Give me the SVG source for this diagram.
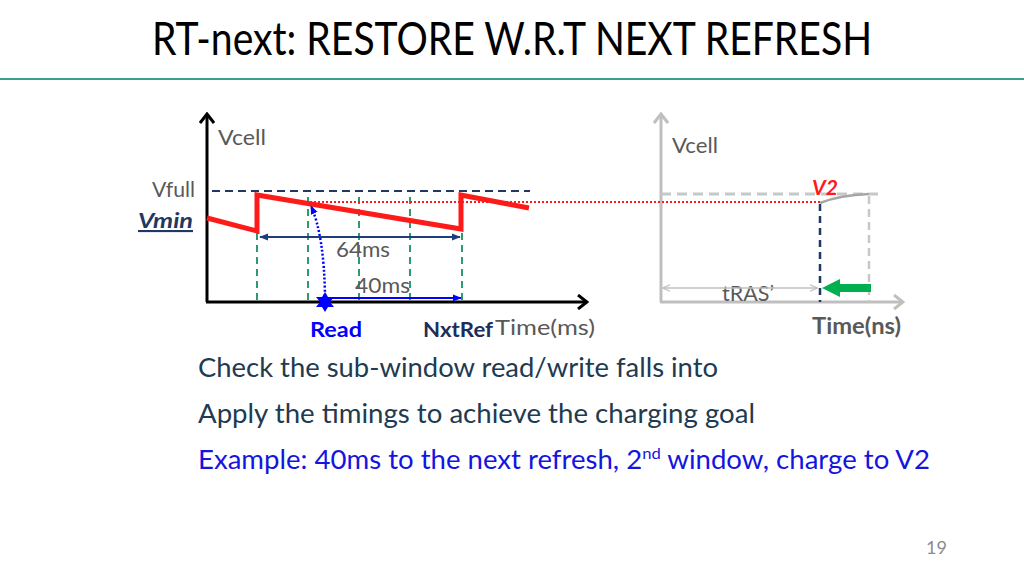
<svg xmlns="http://www.w3.org/2000/svg" width="1024" height="576" viewBox="0 0 1024 576">
<style>
text{font-family:Lato,"Open Sans","Liberation Sans",sans-serif}
.lbl{fill:#595959;font-size:22px}
.bul{fill:#213a50;font-size:26.5px}
.grn{stroke:#2e9b6e;stroke-width:2;stroke-dasharray:7 5;fill:none}
.ax{stroke:#000;stroke-width:3;fill:none}
.gax{stroke:#bfbfbf;stroke-width:3;fill:none}
</style>
<defs>
<marker id="chev" viewBox="0 0 12 16" refX="10" refY="8" markerWidth="12" markerHeight="16" markerUnits="userSpaceOnUse" orient="auto"><path d="M1,1 L10,8 L1,15" fill="none" stroke="#000" stroke-width="3"/></marker>
<marker id="gchev" viewBox="0 0 12 16" refX="10" refY="8" markerWidth="12" markerHeight="16" markerUnits="userSpaceOnUse" orient="auto"><path d="M1,1 L10,8 L1,15" fill="none" stroke="#bfbfbf" stroke-width="3"/></marker>
<marker id="navyA" viewBox="0 0 10 10" refX="9" refY="5" markerWidth="9" markerHeight="9" markerUnits="userSpaceOnUse" orient="auto-start-reverse"><path d="M0,1 L10,5 L0,9 Z" fill="#1f3d7a"/></marker>
<marker id="blueA" viewBox="0 0 10 10" refX="9" refY="5" markerWidth="9" markerHeight="9" markerUnits="userSpaceOnUse" orient="auto"><path d="M0,1 L10,5 L0,9 Z" fill="#0000ff"/></marker>
<marker id="grayA" viewBox="0 0 10 10" refX="9" refY="5" markerWidth="8" markerHeight="8" markerUnits="userSpaceOnUse" orient="auto-start-reverse"><path d="M0,1 L10,5 L0,9" fill="none" stroke="#bfbfbf" stroke-width="1.5"/></marker>
</defs>
<rect width="1024" height="576" fill="#fff"/>
<g id="title">
<text x="152" y="55" font-size="46" fill="#000" textLength="720" lengthAdjust="spacingAndGlyphs">RT-next: RESTORE W.R.T NEXT REFRESH</text>
<line x1="0" y1="79" x2="1024" y2="79" stroke="#3d9e8c" stroke-width="2"/>
</g>
<g id="left-chart">
<line class="ax" x1="207" y1="302" x2="207" y2="114" marker-end="url(#chev)"/>
<line class="ax" x1="206" y1="302" x2="587" y2="302" marker-end="url(#chev)"/>
<line x1="212" y1="191" x2="530" y2="191" stroke="#1f3864" stroke-width="2" stroke-dasharray="8 5"/>
<line x1="257" y1="197" x2="257" y2="302" class="grn"/>
<line x1="308" y1="197" x2="308" y2="302" class="grn"/>
<line x1="359" y1="197" x2="359" y2="302" class="grn"/>
<line x1="410" y1="197" x2="410" y2="302" class="grn"/>
<line x1="462" y1="197" x2="462" y2="302" class="grn"/>
<polyline points="207,218 257,231 257,195 461,229 461,195 529,208" fill="none" stroke="#ff1a1a" stroke-width="5" stroke-linejoin="miter"/>
<text class="lbl" x="218" y="145" textLength="48" lengthAdjust="spacingAndGlyphs">Vcell</text>
<text class="lbl" x="152" y="197" textLength="43" lengthAdjust="spacingAndGlyphs">Vfull</text>
<text x="138" y="228" font-size="21" font-weight="bold" font-style="italic" fill="#1f3864" text-decoration="underline" textLength="55" lengthAdjust="spacingAndGlyphs">Vmin</text>
<text class="lbl" x="336" y="257" textLength="54" lengthAdjust="spacingAndGlyphs">64ms</text>
<text class="lbl" x="355" y="293" textLength="55" lengthAdjust="spacingAndGlyphs">40ms</text>
<text x="310" y="337" font-size="21" font-weight="bold" fill="#0000ff" textLength="52" lengthAdjust="spacingAndGlyphs">Read</text>
<text x="423" y="337" font-size="21" font-weight="bold" fill="#1f2d5a" textLength="70" lengthAdjust="spacingAndGlyphs">NxtRef</text>
<text class="lbl" x="495" y="335" textLength="100" lengthAdjust="spacingAndGlyphs">Time(ms)</text>
</g>
<g id="right-chart">
<line class="gax" x1="661" y1="302" x2="661" y2="114" marker-end="url(#gchev)"/>
<line class="gax" x1="660" y1="302" x2="903" y2="302" marker-end="url(#gchev)"/>
<line x1="661" y1="194" x2="878" y2="194" stroke="#c8c8c8" stroke-width="3" stroke-dasharray="10 6"/>
<path d="M820,203 Q840,195 869,194" fill="none" stroke="#a6a6a6" stroke-width="2.5"/>
<line x1="869" y1="196" x2="869" y2="302" stroke="#c8c8c8" stroke-width="2.5" stroke-dasharray="8 5"/>
<line x1="820" y1="204" x2="820" y2="302" stroke="#1f3864" stroke-width="2.5" stroke-dasharray="7 5"/>
<text class="lbl" x="672" y="153" textLength="46" lengthAdjust="spacingAndGlyphs">Vcell</text>
<text x="812" y="195" font-size="21" font-weight="bold" font-style="italic" fill="#ff1a1a" textLength="26" lengthAdjust="spacingAndGlyphs">V2</text>
<text class="lbl" x="722" y="301" textLength="52" lengthAdjust="spacingAndGlyphs">tRAS’</text>
<text x="812" y="334" font-size="22" font-weight="bold" fill="#595959" textLength="89" lengthAdjust="spacingAndGlyphs">Time(ns)</text>
<polygon points="822,288 840,279 840,284 871,284 871,292 840,292 840,297" fill="#00b050"/>
</g>
<g id="connectors">
<line x1="310" y1="202" x2="820" y2="202" stroke="#ff1a1a" stroke-width="2" stroke-dasharray="2 2"/>
<line x1="260" y1="237" x2="460" y2="237" stroke="#1f3d7a" stroke-width="2" marker-start="url(#navyA)" marker-end="url(#navyA)"/>
<line x1="327" y1="298" x2="461" y2="298" stroke="#0000ff" stroke-width="2" marker-end="url(#blueA)"/>
<path d="M325,296 Q324,235 311,206" fill="none" stroke="#0000ff" stroke-width="2.5" stroke-dasharray="2 2" marker-end="url(#blueA)"/>
<line x1="663" y1="288" x2="817" y2="288" stroke="#bfbfbf" stroke-width="1.5" marker-start="url(#grayA)" marker-end="url(#grayA)"/>
<polygon id="read-star" points="325,292 328,297 334,297 330,302 334,307 328,307 325,312 322,307 316,307 320,302 316,297 322,297" fill="#0000ff"/>
</g>
<g id="bullets">
<text class="bul" x="198" y="377" textLength="520" lengthAdjust="spacingAndGlyphs">Check the sub-window read/write falls into</text>
<text class="bul" x="198" y="423" textLength="557" lengthAdjust="spacingAndGlyphs">Apply the timings to achieve the charging goal</text>
<text class="bul" x="198" y="469" style="fill:#1515e0" textLength="732" lengthAdjust="spacingAndGlyphs">Example: 40ms to the next refresh, 2<tspan font-size="16" dy="-10">nd</tspan><tspan dy="10"> window, charge to V2</tspan></text>
</g>
<text x="926" y="554" font-size="18" fill="#8c8c8c">19</text>
</svg>
